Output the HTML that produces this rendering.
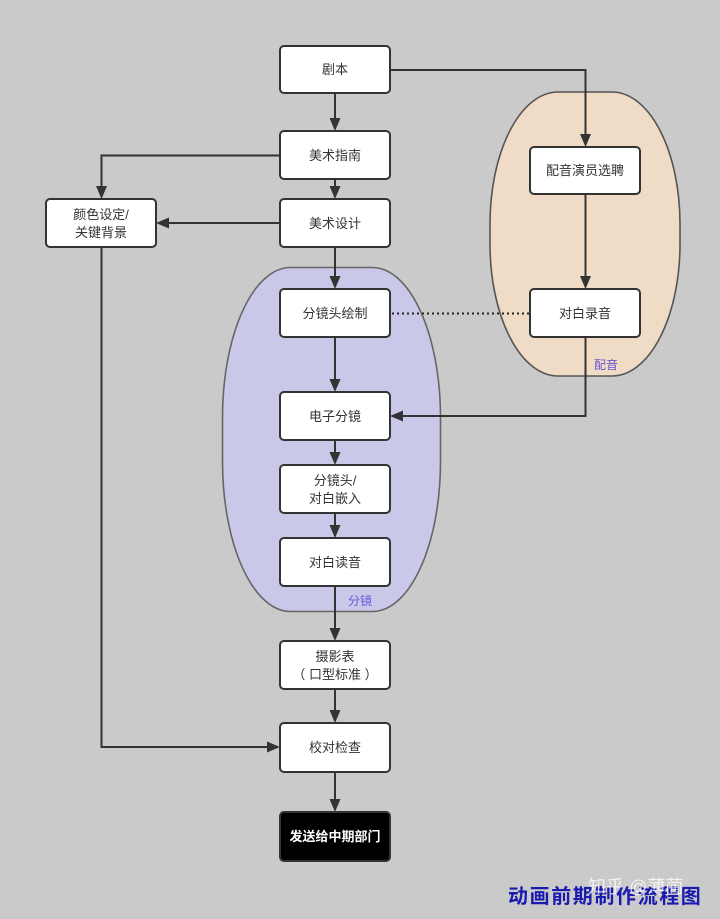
<!DOCTYPE html>
<html><head><meta charset="utf-8"><style>
html,body{margin:0;padding:0;background:#cacaca;}
svg{display:block;}
text{font-family:"Liberation Sans","Noto Sans CJK SC",sans-serif;}
</style></head><body>
<svg width="720" height="919" viewBox="0 0 720 919" xmlns="http://www.w3.org/2000/svg">
<rect x="0" y="0" width="720" height="919" fill="#cacaca"/>
<!-- group shapes -->
<rect x="490" y="92" width="190" height="284" rx="68" ry="132" fill="#f0dcc6" stroke="#555" stroke-width="1.6"/>
<rect x="222.5" y="267.5" width="218" height="344" rx="68" ry="150" fill="#c9c8e8" stroke="#666" stroke-width="1.6"/>
<text x="594" y="369" font-size="12" fill="#6a55d0">配音</text>
<text x="348" y="605" font-size="12" fill="#6a5ad8">分镜</text>

<g fill="none" stroke="#333" stroke-width="2">
<path d="M335 93 V121"/>
<path d="M335 179 V189"/>
<path d="M335 247 V279"/>
<path d="M335 337 V381"/>
<path d="M335 440 V455"/>
<path d="M335 513 V528"/>
<path d="M335 586 V630"/>
<path d="M335 689 V713"/>
<path d="M335 772 V801"/>
<path d="M390 70 H585.5 V136"/>
<path d="M585.5 194 V279"/>
<path d="M585.5 337 V416 H401"/>
<path d="M280 155.5 H101.5 V189"/>
<path d="M280 223 H167"/>
<path d="M101.5 247 V747 H269"/>
</g>
<path d="M392 313.5 H530" stroke="#222" stroke-width="2" stroke-dasharray="2,3" fill="none"/>
<g fill="#333">
<path d="M329.5 118 L340.5 118 L335 131 Z"/>
<path d="M329.5 186 L340.5 186 L335 199 Z"/>
<path d="M329.5 276 L340.5 276 L335 289 Z"/>
<path d="M329.5 379 L340.5 379 L335 392 Z"/>
<path d="M329.5 452 L340.5 452 L335 465 Z"/>
<path d="M329.5 525 L340.5 525 L335 538 Z"/>
<path d="M329.5 628 L340.5 628 L335 641 Z"/>
<path d="M329.5 710 L340.5 710 L335 723 Z"/>
<path d="M329.5 799 L340.5 799 L335 812 Z"/>
<path d="M580 134 L591 134 L585.5 147 Z"/>
<path d="M580 276 L591 276 L585.5 289 Z"/>
<path d="M96 186 L107 186 L101.5 199 Z"/>
<path d="M403 410.5 L403 421.5 L390 416 Z"/>
<path d="M169 217.5 L169 228.5 L156 223 Z"/>
<path d="M267 741.5 L267 752.5 L280 747 Z"/>
</g>

<g stroke="#333" stroke-width="2" fill="#fff">
<rect x="280" y="46" width="110" height="47" rx="4"/>
<rect x="280" y="131" width="110" height="48" rx="4"/>
<rect x="280" y="199" width="110" height="48" rx="4"/>
<rect x="46" y="199" width="110" height="48" rx="4"/>
<rect x="280" y="289" width="110" height="48" rx="4"/>
<rect x="530" y="147" width="110" height="47" rx="4"/>
<rect x="530" y="289" width="110" height="48" rx="4"/>
<rect x="280" y="392" width="110" height="48" rx="4"/>
<rect x="280" y="465" width="110" height="48" rx="4"/>
<rect x="280" y="538" width="110" height="48" rx="4"/>
<rect x="280" y="641" width="110" height="48" rx="4"/>
<rect x="280" y="723" width="110" height="49" rx="4"/>
<rect x="280" y="812" width="110" height="49" rx="4" fill="#000"/>
</g>

<g font-size="13" fill="#333" text-anchor="middle">
<text x="335" y="74">剧本</text>
<text x="335" y="160">美术指南</text>
<text x="335" y="228">美术设计</text>
<text x="101" y="219">颜色设定/</text>
<text x="101" y="237">关键背景</text>
<text x="335" y="318">分镜头绘制</text>
<text x="585" y="175">配音演员选聘</text>
<text x="585" y="318">对白录音</text>
<text x="335" y="421">电子分镜</text>
<text x="335" y="485">分镜头/</text>
<text x="335" y="503">对白嵌入</text>
<text x="335" y="567">对白读音</text>
<text x="335" y="661">摄影表</text>
<text x="335" y="679">（ 口型标准 ）</text>
<text x="335" y="752">校对检查</text>
<text x="335" y="841" fill="#fff" font-weight="bold">发送给中期部门</text>
</g>

<text x="508" y="903" font-size="20" font-weight="bold" fill="#1a1ab0" letter-spacing="1.6">动画前期制作流程图</text>
<text x="588" y="893" font-size="18" fill="#ffffff" fill-opacity="0.75">知乎 @薄蔺</text>
</svg>
</body></html>
